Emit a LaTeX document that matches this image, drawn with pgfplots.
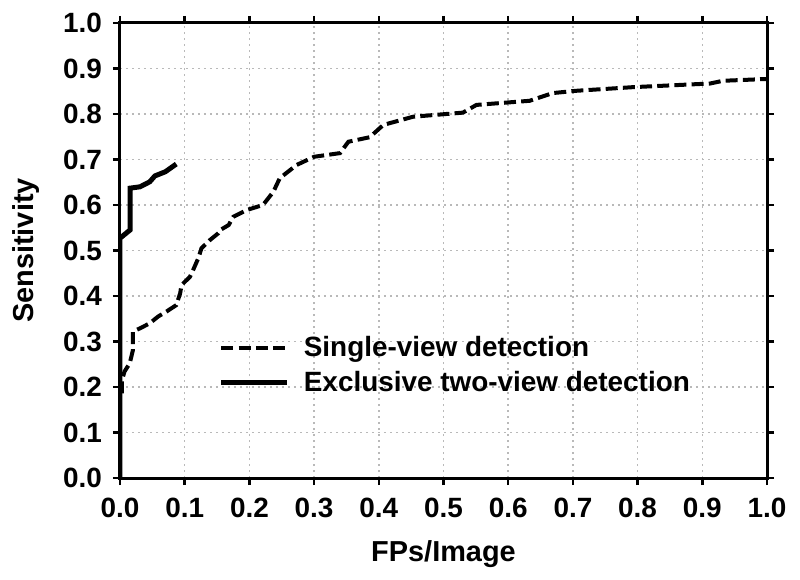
\documentclass[border=0pt]{standalone}
\usepackage{fontspec}
\setmainfont{Liberation Sans}
\usepackage{pgfplots}
\pgfplotsset{compat=1.18}

\begin{document}
\begin{tikzpicture}
\begin{axis}[
    scale only axis,
    width=323.5bp,
    height=227.5bp,
    xmin=0, xmax=1,
    ymin=0, ymax=1,
    xtick={0,0.1,...,1.0},
    ytick={0,0.1,...,1.0},
    tick align=outside,
    major tick length=3.5bp,
    tick style={black, line width=1.2bp},
    axis line style={line width=1.5bp},
    /pgf/number format/fixed,
    /pgf/number format/fixed zerofill,
    /pgf/number format/precision=1,
    /pgf/number format/assume math mode=true,
    tick label style={font=\fontsize{14}{16}\selectfont\bfseries},
    yticklabel style={xshift=-2bp},
    xticklabel style={yshift=-3bp},
    xlabel={FPs/Image},
    ylabel={Sensitivity},
    label style={font=\fontsize{14.5}{16}\selectfont\bfseries},
    xlabel style={at={(axis description cs:0.5,-0.168)}, anchor=center},
    ylabel style={at={(axis description cs:-0.145,0.5)}, anchor=center},
    grid=major,
    grid style={gray!55, line width=0.8bp, dash pattern=on 0.8bp off 2.2bp},
    legend style={font=\fontsize{14}{16}\selectfont\bfseries, draw=none, fill=none,
        at={(0.143,0.33)}, anchor=north west, row sep=2bp,
        legend cell align=left},
    legend image code/.code={\draw[#1] (0bp,0bp) -- (33bp,0bp);},
]
\addplot[black, line width=2bp, dash pattern=on 6bp off 2.6bp] coordinates {
    (0.003,0.186) (0.003,0.215) (0.007,0.234) (0.015,0.252) (0.020,0.281)
    (0.020,0.322) (0.031,0.329) (0.046,0.340) (0.059,0.355) (0.072,0.366)
    (0.087,0.380) (0.093,0.406) (0.095,0.424) (0.108,0.442) (0.113,0.457)
    (0.121,0.483) (0.126,0.505) (0.139,0.523) (0.152,0.538) (0.155,0.545)
    (0.168,0.556) (0.175,0.574) (0.196,0.589) (0.221,0.600) (0.237,0.629)
    (0.247,0.659) (0.273,0.688) (0.300,0.706) (0.340,0.714) (0.353,0.739)
    (0.386,0.749) (0.407,0.776) (0.453,0.794) (0.530,0.803) (0.551,0.820)
    (0.633,0.829) (0.669,0.846) (0.705,0.851) (0.793,0.859) (0.912,0.867)
    (0.932,0.873) (1.000,0.877)
};
\addlegendentry{\hspace{5bp}Single-view detection}
\addplot[black, line width=2.5bp] coordinates {
    (0,0) (0,0.527) (0.0155,0.545) (0.0155,0.637) (0.031,0.640)
    (0.046,0.651) (0.054,0.664) (0.070,0.673) (0.087,0.690)
};
\addlegendentry{\hspace{5bp}Exclusive two-view detection}
\end{axis}
\path (current axis.south west) ++(-60bp,-51bp) rectangle
      ([shift={(16.5bp,11.5bp)}]current axis.north east);
\end{tikzpicture}
\end{document}
